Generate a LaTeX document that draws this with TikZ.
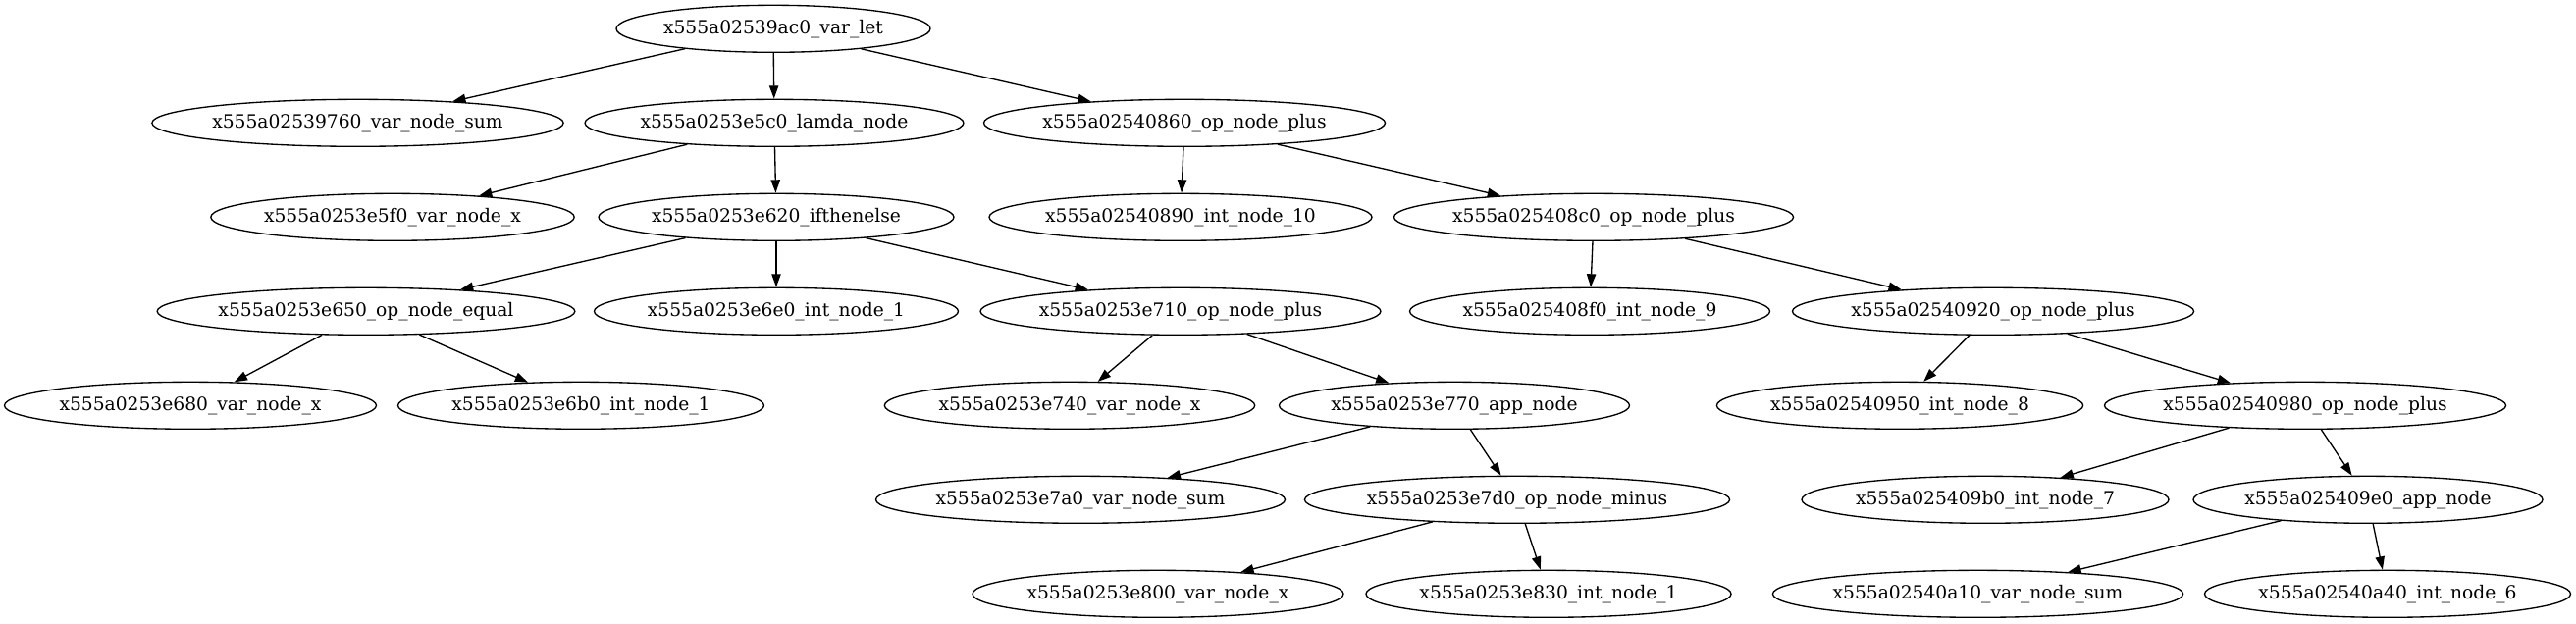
\documentclass[tikz,border=0pt]{standalone}
\usepackage{fontspec}
\setmainfont{DejaVu Serif}
\usetikzlibrary{arrows.meta, shapes.geometric}

\begin{document}
\begin{tikzpicture}[x=0.75pt, y=-0.75pt,
        gvnode/.style={ellipse, draw, line width=1pt, inner sep=0pt, minimum height=36pt, minimum width=#1*0.75pt, font=\fontsize{14}{17}\selectfont},
        gvedge/.style={-{Triangle[length=10pt, width=7pt]}, line width=1pt}]
        \useasboundingbox (0, 0) rectangle (2625, 635);

        \node[gvnode=320] (let) at (788, 29.3) {x555a02539ac0\_var\_let};

        \node[gvnode=416] (sumA) at (364.5, 125.3) {x555a02539760\_var\_node\_sum};
        \node[gvnode=384] (lamda) at (789, 125.3) {x555a0253e5c0\_lamda\_node};
        \node[gvnode=406] (plusA) at (1207, 125.3) {x555a02540860\_op\_node\_plus};

        \node[gvnode=370] (xA) at (400, 221.3) {x555a0253e5f0\_var\_node\_x};
        \node[gvnode=362] (ite) at (791, 221.3) {x555a0253e620\_ifthenelse};
        \node[gvnode=388] (ten) at (1203, 221.3) {x555a02540890\_int\_node\_10};
        \node[gvnode=403] (plusB) at (1624, 221.3) {x555a025408c0\_op\_node\_plus};

        \node[gvnode=419] (equal) at (373, 317.3) {x555a0253e650\_op\_node\_equal};
        \node[gvnode=371] (oneA) at (791, 317.3) {x555a0253e6e0\_int\_node\_1};
        \node[gvnode=405] (plusC) at (1203, 317.3) {x555a0253e710\_op\_node\_plus};
        \node[gvnode=367] (nine) at (1620, 317.3) {x555a025408f0\_int\_node\_9};
        \node[gvnode=406] (plusD) at (2031, 317.3) {x555a02540920\_op\_node\_plus};

        \node[gvnode=379] (xB) at (194, 413.3) {x555a0253e680\_var\_node\_x};
        \node[gvnode=373] (oneB) at (592, 413.3) {x555a0253e6b0\_int\_node\_1};
        \node[gvnode=377] (xC) at (1090, 413.3) {x555a0253e740\_var\_node\_x};
        \node[gvnode=357] (appA) at (1482, 413.3) {x555a0253e770\_app\_node};
        \node[gvnode=373] (eight) at (1936, 413.3) {x555a02540950\_int\_node\_8};
        \node[gvnode=406] (plusE) at (2349, 413.3) {x555a02540980\_op\_node\_plus};

        \node[gvnode=413] (sumB) at (1101, 509.3) {x555a0253e7a0\_var\_node\_sum};
        \node[gvnode=427] (minus) at (1546, 509.3) {x555a0253e7d0\_op\_node\_minus};
        \node[gvnode=374] (seven) at (2023, 509.3) {x555a025409b0\_int\_node\_7};
        \node[gvnode=356] (appB) at (2413, 509.3) {x555a025409e0\_app\_node};

        \node[gvnode=378] (xD) at (1180, 605.3) {x555a0253e800\_var\_node\_x};
        \node[gvnode=372] (oneC) at (1578, 605.3) {x555a0253e830\_int\_node\_1};
        \node[gvnode=412] (sumC) at (2015.5, 605.3) {x555a02540a10\_var\_node\_sum};
        \node[gvnode=373] (six) at (2433, 605.3) {x555a02540a40\_int\_node\_6};

        \draw[gvedge] (let) -- (sumA);
        \draw[gvedge] (let) -- (lamda);
        \draw[gvedge] (let) -- (plusA);
        \draw[gvedge] (lamda) -- (xA);
        \draw[gvedge] (lamda) -- (ite);
        \draw[gvedge] (plusA) -- (ten);
        \draw[gvedge] (plusA) -- (plusB);
        \draw[gvedge] (ite) -- (equal);
        \draw[gvedge] (ite) -- (oneA);
        \draw[gvedge] (ite) -- (plusC);
        \draw[gvedge] (plusB) -- (nine);
        \draw[gvedge] (plusB) -- (plusD);
        \draw[gvedge] (equal) -- (xB);
        \draw[gvedge] (equal) -- (oneB);
        \draw[gvedge] (plusC) -- (xC);
        \draw[gvedge] (plusC) -- (appA);
        \draw[gvedge] (plusD) -- (eight);
        \draw[gvedge] (plusD) -- (plusE);
        \draw[gvedge] (appA) -- (sumB);
        \draw[gvedge] (appA) -- (minus);
        \draw[gvedge] (plusE) -- (seven);
        \draw[gvedge] (plusE) -- (appB);
        \draw[gvedge] (minus) -- (xD);
        \draw[gvedge] (minus) -- (oneC);
        \draw[gvedge] (appB) -- (sumC);
        \draw[gvedge] (appB) -- (six);
    \end{tikzpicture}
\end{document}
